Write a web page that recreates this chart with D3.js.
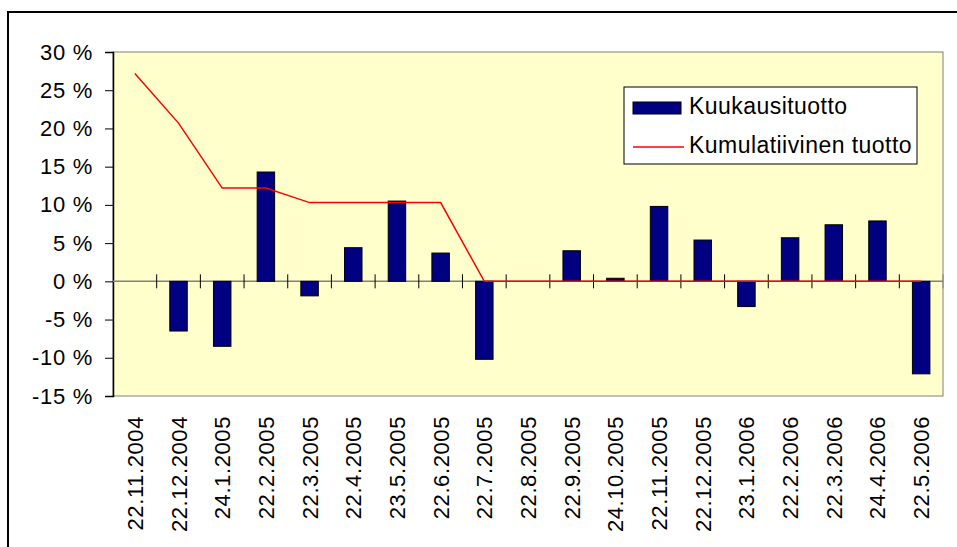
<!DOCTYPE html>
<html>
<head>
<meta charset="utf-8">
<script src="https://cdn.jsdelivr.net/npm/d3@7"></script>
<style>
  body { margin: 0; background: #fff; }
  svg { display: block; font-family: "Liberation Sans", Arial, sans-serif; }
</style>
</head>
<body>
<div id="chart"></div>
<script>
'use strict';

var dates = ['22.11.2004', '22.12.2004', '24.1.2005', '22.2.2005', '22.3.2005', '22.4.2005',
    '23.5.2005', '22.6.2005', '22.7.2005', '22.8.2005', '22.9.2005', '24.10.2005',
    '22.11.2005', '22.12.2005', '23.1.2006', '22.2.2006', '22.3.2006', '24.4.2006', '22.5.2006'];
var monthly = [0, -6.5, -8.5, 14.3, -1.9, 4.4, 10.5, 3.7, -10.2, 0, 4.0, 0.4,
    9.8, 5.4, -3.3, 5.7, 7.4, 7.9, -12.1];
var cumulative = [27.2, 20.7, 12.2, 12.2, 10.3, 10.3, 10.3, 10.3, 0, 0, 0, 0,
    0, 0, 0, 0, 0, 0, 0];
var yTicks = [-15, -10, -5, 0, 5, 10, 15, 20, 25, 30];
var seriesNames = ['Kuukausituotto', 'Kumulatiivinen tuotto'];

var width = 957;
var height = 547;
var plot = {left: 113, top: 52, right: 943, bottom: 396};

var svg = d3.select('#chart').append('svg')
    .attr('width', width)
    .attr('height', height);

// outer chart frame
svg.append('rect')
    .attr('x', 8).attr('y', 12)
    .attr('width', 960).attr('height', 560)
    .style('fill', '#fff')
    .style('stroke', '#000')
    .style('stroke-width', 2);

var x = d3.scaleBand()
    .domain(dates)
    .range([plot.left, plot.right]);

var y = d3.scaleLinear()
    .domain([-15, 30])
    .range([plot.bottom, plot.top]);

// plot area
svg.append('rect')
    .attr('x', plot.left).attr('y', plot.top)
    .attr('width', plot.right - plot.left)
    .attr('height', plot.bottom - plot.top)
    .style('fill', '#ffffcc')
    .style('stroke', '#808080')
    .style('stroke-width', 1);

// y axis
var yAxis = svg.append('g')
    .attr('transform', 'translate(' + plot.left + ',0)')
    .call(d3.axisLeft(y).tickValues(yTicks).tickSize(8).tickPadding(12)
        .tickFormat(function(d) { return d + ' %'; }));
yAxis.select('.domain').style('stroke', '#000').style('stroke-width', 1.5);
yAxis.selectAll('.tick line').style('stroke', '#000');
yAxis.selectAll('text')
    .style('font-size', '22px')
    .style('letter-spacing', '0.7px')
    .style('font-family', '"Liberation Sans", Arial, sans-serif')
    .style('fill', '#000');

// zero line with crossing ticks at category boundaries
var zero = y(0);
svg.append('line')
    .attr('x1', plot.left).attr('x2', plot.right)
    .attr('y1', zero).attr('y2', zero)
    .style('stroke', '#808080')
    .style('stroke-width', 1.5);

svg.selectAll('line.cat-tick')
    .data(dates.slice(1))
    .enter().append('line')
    .attr('class', 'cat-tick')
    .attr('x1', function(d) { return x(d); })
    .attr('x2', function(d) { return x(d); })
    .attr('y1', zero - 7).attr('y2', zero + 7)
    .style('stroke', '#000')
    .style('stroke-width', 1);

svg.append('line')
    .attr('x1', plot.right).attr('x2', plot.right)
    .attr('y1', zero - 7).attr('y2', zero + 7)
    .style('stroke', '#808080');

// bars
var barW = x.bandwidth() / 2.5;
svg.selectAll('rect.bar')
    .data(monthly)
    .enter().append('rect')
    .attr('class', 'bar')
    .attr('x', function(d, i) { return x(dates[i]) + (x.bandwidth() - barW) / 2; })
    .attr('y', function(d) { return y(Math.max(0, d)); })
    .attr('width', barW)
    .attr('height', function(d) { return Math.abs(y(d) - y(0)); })
    .style('fill', '#000080')
    .style('stroke', function(d) { return d === 0 ? 'none' : '#000'; })
    .style('stroke-width', 1);

// cumulative line
var line = d3.line()
    .x(function(d, i) { return x(dates[i]) + x.bandwidth() / 2; })
    .y(function(d) { return y(d); });

svg.append('path')
    .datum(cumulative)
    .attr('d', line)
    .style('fill', 'none')
    .style('stroke', '#ff0000')
    .style('stroke-width', 1.5);

// x labels
svg.selectAll('text.xlab')
    .data(dates)
    .enter().append('text')
    .attr('class', 'xlab')
    .attr('transform', function(d) {
        return 'translate(' + (x(d) + x.bandwidth() / 2 + 8) + ',416) rotate(-90)';
    })
    .attr('text-anchor', 'end')
    .style('font-size', '22px')
    .style('letter-spacing', '0.6px')
    .style('fill', '#000')
    .text(function(d) { return d; });

// legend
var legend = svg.append('g');
legend.append('rect')
    .attr('x', 624).attr('y', 87)
    .attr('width', 293).attr('height', 77)
    .style('fill', '#fff')
    .style('stroke', '#000')
    .style('stroke-width', 1);

legend.append('rect')
    .attr('x', 633).attr('y', 102)
    .attr('width', 48).attr('height', 12)
    .style('fill', '#000080')
    .style('stroke', '#000');

legend.append('line')
    .attr('x1', 633).attr('x2', 684)
    .attr('y1', 147).attr('y2', 147)
    .style('stroke', '#ff0000')
    .style('stroke-width', 1.5);

legend.selectAll('text')
    .data(seriesNames)
    .enter().append('text')
    .attr('x', 689)
    .attr('y', function(d, i) { return 114 + i * 39; })
    .style('font-size', '23px')
    .style('letter-spacing', '0.45px')
    .style('fill', '#000')
    .text(function(d) { return d; });
</script>
</body>
</html>
